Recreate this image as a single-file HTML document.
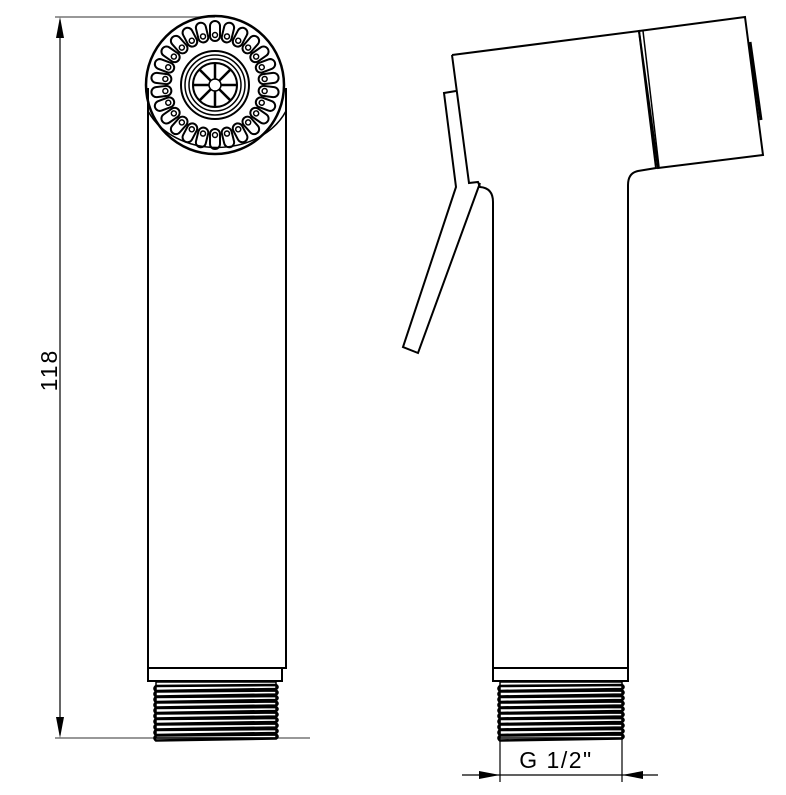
<!DOCTYPE html>
<html><head><meta charset="utf-8"><style>
html,body{margin:0;padding:0;background:#fff;}
svg{display:block;}
</style></head><body>
<svg id="s" width="786" height="795" viewBox="0 0 786 795" xmlns="http://www.w3.org/2000/svg" fill="none" stroke="#000" stroke-width="2">
<line x1="55" y1="17" x2="215" y2="17" stroke="#777" stroke-width="1.5"/>
<line x1="55" y1="738" x2="310" y2="738" stroke="#777" stroke-width="1.5"/>
<line x1="60" y1="20" x2="60" y2="735" stroke-width="1.2"/>
<polygon points="60,17 56,38 64,38" fill="#000" stroke="none"/>
<polygon points="60,738 56,717 64,717" fill="#000" stroke="none"/>
<text x="0" y="0" transform="translate(57,370) rotate(-90)" text-anchor="middle" font-family="Liberation Sans, sans-serif" font-size="23" letter-spacing="2" fill="#000" stroke="none">118</text>

<path d="M148,88 L148,668 L286,668 L286,88"/>
<path d="M148,111 A75,60 0 0 0 286,111" stroke-width="1.5"/>
<rect x="148" y="668" width="134" height="13" stroke-width="2"/>
<g id="thr1"></g>
<circle cx="215" cy="85" r="69" stroke-width="2.5"/>
<g id="noz"></g>
<circle cx="215" cy="85" r="34" stroke-width="2"/>
<circle cx="215" cy="85" r="30" stroke-width="1.5"/>
<circle cx="215" cy="85" r="26" stroke-width="1.5"/>
<circle cx="215" cy="85" r="22" stroke-width="2"/>
<circle cx="215" cy="85" r="6" stroke-width="1.5"/>
<g id="spk" stroke-width="2.5"></g>

<path d="M452,55 L639,31 L656,168 L638,171 Q628,173 628,185 L628,668"/>
<path d="M639,31 L745,17 L763,155 L658,168 Z"/>
<line x1="643" y1="31" x2="659" y2="167" stroke-width="1.5"/>
<line x1="750" y1="42" x2="761" y2="120" stroke-width="3"/>
<path d="M452,55 L469,183 L478,182 L480,187 Q493,188 493,202 L493,668"/>
<path d="M456,91 L444,93 L456,187 L403,347 L418,353 L480,183"/>
<rect x="493" y="668" width="135" height="13"/>
<g id="thr2"></g>
<line x1="500" y1="710" x2="500" y2="782" stroke-width="1.2"/>
<line x1="622" y1="710" x2="622" y2="782" stroke-width="1.2"/>
<line x1="462" y1="775" x2="658" y2="775" stroke-width="1.2"/>
<polygon points="500,775 479,771 479,779" fill="#000" stroke="none"/>
<polygon points="622,775 643,771 643,779" fill="#000" stroke="none"/>
<text x="556" y="768" text-anchor="middle" font-family="Liberation Sans, sans-serif" font-size="23" letter-spacing="1.5" fill="#000" stroke="none">G 1/2"</text>
</svg>
<script>
var NS="http://www.w3.org/2000/svg";
function el(p,t,a){var e=document.createElementNS(NS,t);for(var k in a)e.setAttribute(k,a[k]);document.getElementById(p).appendChild(e);return e;}
var cx=215,cy=85;
for(var i=0;i<26;i++){var a=i*360/26;
 var g=el("noz","g",{transform:"rotate("+a+" "+cx+" "+cy+")"});
 var r=document.createElementNS(NS,"rect");
 r.setAttribute("x",cx-5);r.setAttribute("y",cy-64);r.setAttribute("width",10);r.setAttribute("height",20);r.setAttribute("rx",5);r.setAttribute("stroke-width","2");g.appendChild(r);
 var c=document.createElementNS(NS,"circle");c.setAttribute("cx",cx);c.setAttribute("cy",cy-50);c.setAttribute("r",2.5);c.setAttribute("stroke-width","1.5");g.appendChild(c);
}
for(var i=0;i<8;i++){var a=i*Math.PI/4;
 el("spk","line",{x1:cx+6*Math.cos(a),y1:cy+6*Math.sin(a),x2:cx+22*Math.cos(a),y2:cy+22*Math.sin(a)});}
function thr(id,x1,x2,y1,y2){
 el(id,"rect",{x:x1,y:y1,width:x2-x1,height:y2-y1,"stroke-width":"1.5"});
 for(var y=y1+4;y<y2;y+=5.5){
  el(id,"path",{d:"M"+x1+","+y+" Q"+(x1-3)+","+(y+2.5)+" "+x1+","+(y+5)+" L"+x2+","+(y+3)+" Q"+(x2+3)+","+(y+1)+" "+x2+","+(y-1)+" Z","stroke-width":"2.6"});
 }
}
thr("thr1",156,276,682,738);
thr("thr2",500,622,682,738);
</script>
</body></html>
